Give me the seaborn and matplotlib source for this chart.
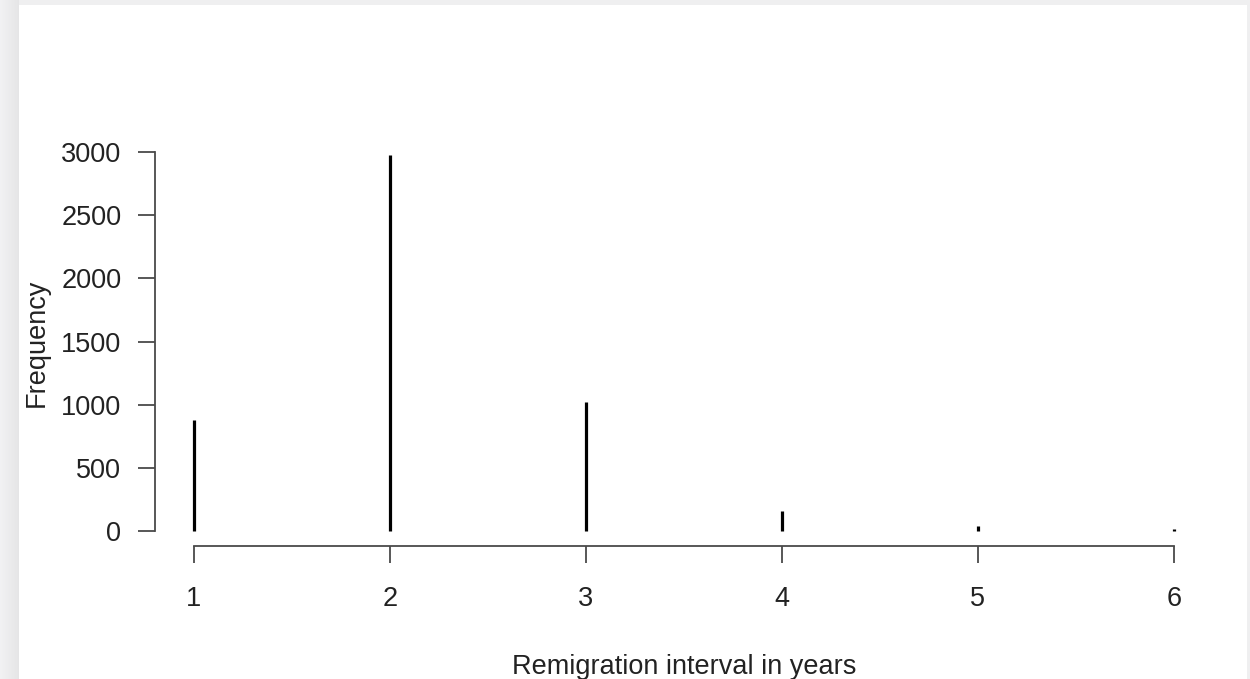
import numpy as np
import matplotlib
matplotlib.use("Agg")
import matplotlib.pyplot as plt
from matplotlib.patches import Rectangle
import seaborn as sns

# Remigration interval counts
intervals = [1, 2, 3, 4, 5, 6]
frequency = [875, 2977, 1025, 160, 40, 15]
x_ticks = [1, 2, 3, 4, 5, 6]
y_ticks = [0, 500, 1000, 1500, 2000, 2500, 3000]

sns.set_theme(style="ticks")
plt.rcParams["font.family"] = ["Liberation Sans", "DejaVu Sans"]

ink = "#222222"
axis_col = "#4a4a4a"

fig = plt.figure(figsize=(12.5, 6.79), dpi=100)
fig.patch.set_facecolor("#efeff0")

# soft shaded strip on the left edge of the page
bg = fig.add_axes([0, 0, 19 / 1250, 1], zorder=-5)
grad = np.linspace(0.95, 0.90, 64).reshape(1, -1)
bg.imshow(np.dstack([grad, grad, grad * 1.005]).clip(0, 1), aspect="auto",
          extent=[0, 1, 0, 1])
bg.set_axis_off()

# white page panel
fig.patches.append(Rectangle((19 / 1250, 0), (1247 - 19) / 1250, 1 - 5 / 679,
                             transform=fig.transFigure, facecolor="white",
                             edgecolor="none", zorder=-4))

ax = fig.add_axes([154.8 / 1250, 1 - 546 / 679, (1213 - 154.8) / 1250,
                   (546 - 140) / 679])
ax.set_facecolor("none")

ax.vlines(intervals, 0, frequency, color="black", linewidth=2.3,
          capstyle="butt")

span_x = max(intervals) - min(intervals)
ax.set_xlim(min(intervals) - 0.04 * span_x, max(intervals) + 0.04 * span_x)
top = max(frequency)
ax.set_ylim(-0.04 * top, top * 1.04)

ax.set_xticks(x_ticks)
ax.set_yticks(y_ticks)
ax.set_xticklabels([str(v) for v in x_ticks])
ax.set_yticklabels([str(v) for v in y_ticks])

sns.despine(ax=ax, trim=True)
for side in ("left", "bottom"):
    ax.spines[side].set_color(axis_col)
    ax.spines[side].set_linewidth(1.3)

ax.tick_params(axis="both", length=12, width=1.3, color=axis_col,
               labelsize=19.5, labelcolor=ink)
ax.tick_params(axis="x", pad=17)
ax.tick_params(axis="y", pad=12)

ax.set_xlabel("Remigration interval in years", fontsize=19.5, color=ink,
              labelpad=30)
ax.set_ylabel("Frequency", fontsize=19.5, color=ink, labelpad=8)

fig.savefig("out.png", dpi=100, facecolor=fig.get_facecolor())
